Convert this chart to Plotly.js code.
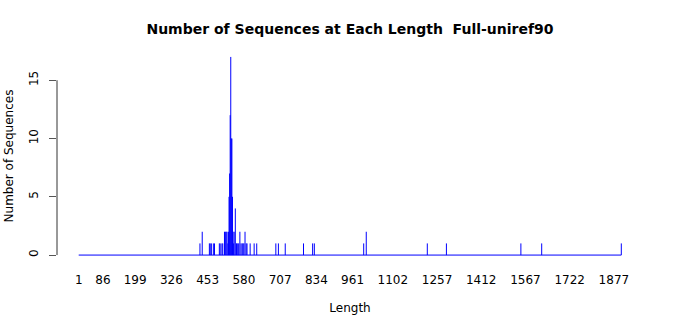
<!DOCTYPE html>
<html>
<head>
<meta charset="utf-8">
<script src="https://cdn.plot.ly/plotly-3.0.1.min.js"></script>
<style>
html,body{margin:0;padding:0;background:#fff;}
#chart{width:700px;height:315px;}
</style>
</head>
<body>
<div id="chart"></div>
<script>
// Sequence lengths (only lengths with at least one sequence) and their counts
const lengths = [426, 434, 459, 462, 466, 473, 477, 494, 497, 503, 506, 512, 515, 518, 521, 524,
  526, 528, 530, 532, 534, 536, 538, 540, 542, 544, 546, 550, 554, 556, 559, 562, 566, 570,
  574, 577, 580, 584, 588, 591, 602, 616, 625, 692, 701, 725, 789, 821, 827, 1000, 1009,
  1223, 1290, 1551, 1624, 1903];
const counts = [1, 2, 1, 1, 1, 1, 1, 1, 1, 1, 1, 2, 2, 2, 2, 1,
  2, 5, 7, 12, 17, 10, 10, 5, 2, 1, 2, 4, 1, 1, 1, 1, 2, 1,
  1, 1, 1, 2, 1, 1, 1, 1, 1, 1, 1, 1, 1, 1, 1, 1, 2,
  1, 1, 1, 1, 1];
const minLength = 1;
const maxLength = 1903;
const xTickVals = [1, 86, 199, 326, 453, 580, 707, 834, 961, 1102, 1257, 1412, 1567, 1722, 1877];
const yTickVals = [0, 5, 10, 15];

// vertical "h"-style segments built from the arrays
const segX = [], segY = [];
lengths.forEach((l, i) => { segX.push(l, l, null); segY.push(0, counts[i], null); });

const pad = 0.04 * (maxLength - minLength);
const maxCount = Math.max(...counts);
const ypad = 0.04 * maxCount;

const font = 'DejaVu Sans, sans-serif';
const traces = [
  {x: [minLength, maxLength], y: [0, 0], type: 'scatter', mode: 'lines',
   line: {color: '#0000ff', width: 1}, hoverinfo: 'skip'},
  {x: segX, y: segY, type: 'scatter', mode: 'lines',
   line: {color: '#0000ff', width: 1}, connectgaps: false}
];
const layout = {
  width: 700, height: 315,
  margin: {l: 57, r: 57, t: 49, b: 52},
  paper_bgcolor: '#fff', plot_bgcolor: '#fff',
  showlegend: false,
  font: {family: font, size: 12, color: '#000'},
  title: {text: '<b>Number of Sequences at Each Length  Full-uniref90</b>',
          font: {family: font, size: 14, color: '#000'},
          x: 0.5, xref: 'paper', y: 0.924, yref: 'container', xanchor: 'center'},
  xaxis: {range: [minLength - pad, maxLength + pad], tickvals: xTickVals,
          ticktext: xTickVals.map(String), showgrid: false, zeroline: false,
          showline: false, ticks: '', ticklabelstandoff: 8,
          title: {text: 'Length', font: {family: font, size: 12}, standoff: 18}},
  yaxis: {range: [-ypad, maxCount + ypad], tickvals: yTickVals,
          ticktext: yTickVals.map(String), showgrid: false, zeroline: false,
          showline: false, ticks: 'outside', ticklen: 7, tickcolor: '#555', tickwidth: 1,
          tickangle: -90, ticklabelstandoff: 6,
          title: {text: 'Number of Sequences', font: {family: font, size: 12}, standoff: 11}},
  shapes: [{type: 'line', xref: 'paper', yref: 'y', x0: 0, x1: 0,
            y0: yTickVals[0], y1: yTickVals[yTickVals.length - 1],
            line: {color: '#333', width: 1}}]
};
Plotly.newPlot('chart', traces, layout, {staticPlot: true, displayModeBar: false});
</script>
</body>
</html>
